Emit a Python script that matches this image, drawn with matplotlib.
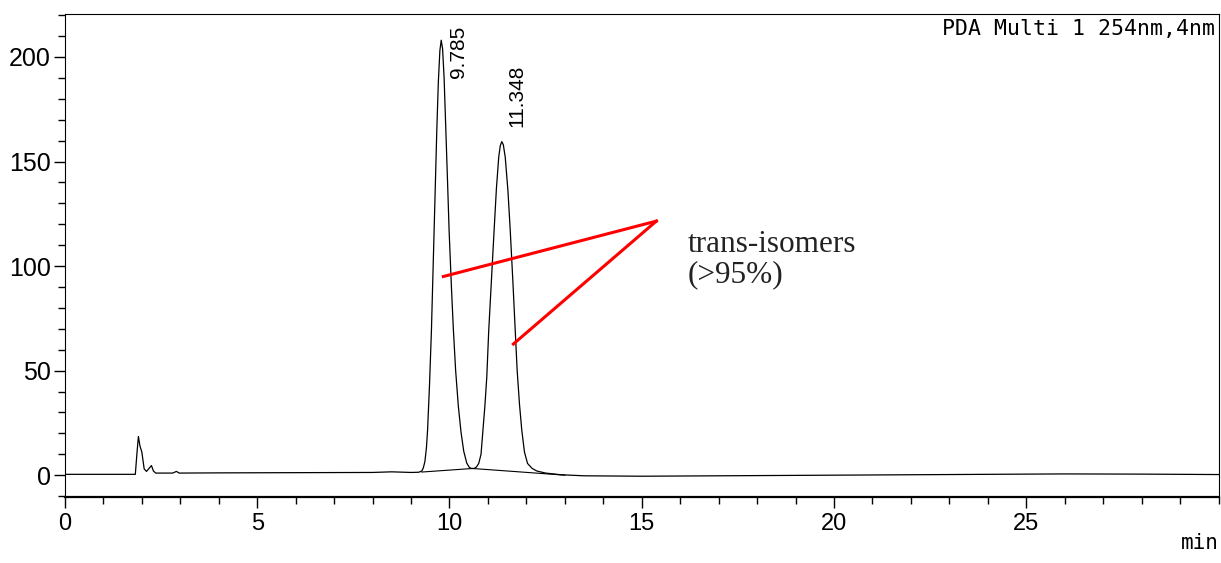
import matplotlib.pyplot as plt
from matplotlib.ticker import MultipleLocator

# Chromatogram trace (time in min, signal)
time_min = [0.0, 1.83, 1.87, 1.91, 1.95, 2.0, 2.06, 2.12, 2.2, 2.25, 2.3, 2.36,
            2.8, 2.9, 2.97, 4.0, 6.0, 8.0, 8.5, 9.0,
            # peak 1
            9.20, 9.28, 9.32, 9.36, 9.40, 9.43, 9.48, 9.53, 9.565, 9.60, 9.635,
            9.67, 9.71, 9.75, 9.785, 9.82, 9.86, 9.905, 9.95, 9.99, 10.05, 10.10,
            10.16, 10.23, 10.30, 10.37, 10.45, 10.52, 10.58, 10.64,
            # peak 2
            10.70, 10.76, 10.82, 10.87, 10.92, 10.97, 11.02, 11.09, 11.16, 11.22,
            11.28, 11.32, 11.36, 11.40, 11.45, 11.52, 11.58, 11.65, 11.71, 11.76,
            11.82, 11.88, 11.95, 12.03, 12.15, 12.27, 12.5, 12.9,
            13.5, 15.0, 17.0, 20.0, 23.0, 26.0, 28.0, 30.0]
signal = [0.4, 0.4, 10.0, 18.5, 14.0, 11.0, 3.0, 1.8, 3.5, 4.6, 2.0, 1.0,
          1.0, 1.8, 1.0, 1.1, 1.2, 1.3, 1.6, 1.3,
          1.4, 2.0, 3.5, 6.5, 13.0, 21.5, 43.0, 69.0, 93.0, 117.0, 141.0,
          165.0, 188.0, 203.0, 208.0, 204.0, 190.0, 165.0, 140.0, 117.0, 90.0, 70.0,
          50.0, 33.0, 20.5, 11.5, 5.7, 3.6, 3.2, 3.2,
          3.9, 5.6, 10.0, 21.5, 33.0, 47.0, 69.0, 93.0, 117.0, 137.0,
          152.0, 157.5, 159.5, 158.0, 152.0, 136.0, 117.0, 92.0, 69.0, 50.0,
          34.0, 21.5, 11.0, 5.6, 3.2, 2.0, 1.0, 0.2,
          -0.3, -0.5, -0.3, 0.0, 0.3, 0.6, 0.5, 0.3]

# integration baseline under the two peaks
base_t = [9.28, 10.6, 13.0]
base_y = [1.5, 3.2, 0.0]

# peak labels
peak_lbl = ['9.785', '11.348']
lbl_t = [10.23, 11.76]
lbl_y = [190, 166.5]

# red pointer lines (start points and common tip)
ptr_start = [(9.84, 95), (11.66, 62.7)]
ptr_tip = (15.38, 121.5)

fig = plt.figure(figsize=(12.21, 5.63), dpi=100)
ax = fig.add_axes([0.0532, 0.117, 0.9448, 0.858])

ax.plot(time_min, signal, color='black', lw=0.9)
ax.plot(base_t, base_y, color='black', lw=0.8)

for x, y, s in zip(lbl_t, lbl_y, peak_lbl):
    ax.text(x, y, s, rotation=90, ha='center', va='bottom',
            fontsize=15, family=['Liberation Sans', 'DejaVu Sans'])

for sx, sy in ptr_start:
    ax.plot([sx, ptr_tip[0]], [sy, ptr_tip[1]], color='#ff0000', lw=2.2)

ax.text(16.2, 106.8, 'trans-isomers', fontsize=22.5, va='baseline', ha='left',
        family=['Liberation Serif', 'DejaVu Serif'], color='#222222')
ax.text(16.2, 92.5, '(>95%)', fontsize=22.5, va='baseline', ha='left',
        family=['Liberation Serif', 'DejaVu Serif'], color='#222222')

ax.text(0.997, 0.99, 'PDA Multi 1 254nm,4nm', transform=ax.transAxes,
        ha='right', va='top', fontsize=15.5,
        family=['DejaVu Sans Mono'])

ax.set_xlim(0, 30)
ax.set_ylim(-10.5, 220.5)
ax.xaxis.set_major_locator(MultipleLocator(5))
ax.xaxis.set_minor_locator(MultipleLocator(1))
ax.yaxis.set_major_locator(MultipleLocator(50))
ax.yaxis.set_minor_locator(MultipleLocator(10))
ax.tick_params(which='major', direction='out', length=8, width=1)
ax.tick_params(which='minor', direction='out', length=5, width=1)
ax.tick_params(axis='y', labelsize=18, pad=2)
ax.tick_params(axis='x', labelsize=17)
ax.set_xticks([0, 5, 10, 15, 20, 25])
for lab in ax.get_xticklabels() + ax.get_yticklabels():
    lab.set_family(['Liberation Sans', 'DejaVu Sans'])
ax.spines['bottom'].set_linewidth(1.6)

fig.text(0.998, 0.018, 'min', ha='right', va='bottom', fontsize=15,
         family=['DejaVu Sans Mono'])

fig.savefig('out.png', dpi=100)
